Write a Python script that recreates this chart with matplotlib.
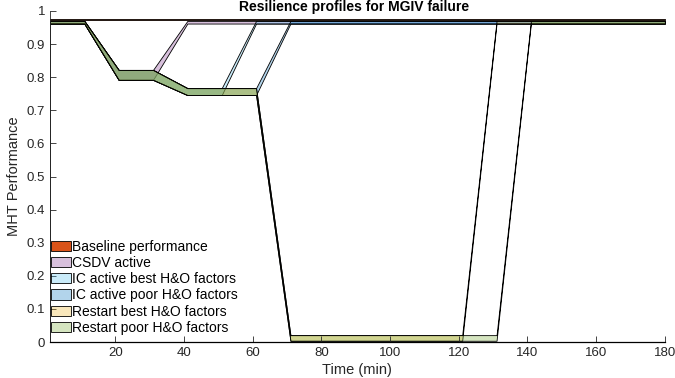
import numpy as np
import matplotlib
matplotlib.use("Agg")
import matplotlib.pyplot as plt
from matplotlib.patches import Patch

plt.rcParams['font.family'] = ['Liberation Sans', 'DejaVu Sans']

# time points (min)
t = [1, 11, 21, 31, 41, 51, 61, 71, 121, 131, 141, 180]

# upper / lower edge of every profile band
base_top = [0.975] * 12
base_bot = [0.972] * 12
csdv_top = [0.970, 0.970, 0.822, 0.822, 0.970, 0.970, 0.970, 0.970, 0.970, 0.970, 0.970, 0.970]
csdv_bot = [0.962, 0.962, 0.792, 0.792, 0.962, 0.962, 0.962, 0.962, 0.962, 0.962, 0.962, 0.962]
icb_top = [0.970, 0.970, 0.822, 0.822, 0.767, 0.767, 0.970, 0.970, 0.970, 0.970, 0.970, 0.970]
icb_bot = [0.962, 0.962, 0.792, 0.792, 0.746, 0.746, 0.962, 0.962, 0.962, 0.962, 0.962, 0.962]
icp_top = [0.970, 0.970, 0.822, 0.822, 0.767, 0.767, 0.767, 0.970, 0.970, 0.970, 0.970, 0.970]
icp_bot = [0.962, 0.962, 0.792, 0.792, 0.746, 0.746, 0.746, 0.962, 0.962, 0.962, 0.962, 0.962]
rsb_top = [0.970, 0.970, 0.822, 0.822, 0.767, 0.767, 0.767, 0.021, 0.021, 0.970, 0.970, 0.970]
rsb_bot = [0.962, 0.962, 0.792, 0.792, 0.746, 0.746, 0.746, 0.004, 0.004, 0.962, 0.962, 0.962]
rsp_top = [0.970, 0.970, 0.822, 0.822, 0.767, 0.767, 0.767, 0.021, 0.021, 0.021, 0.970, 0.970]
rsp_bot = [0.962, 0.962, 0.792, 0.792, 0.746, 0.746, 0.746, 0.004, 0.004, 0.004, 0.962, 0.962]

labels = ["Baseline performance", "CSDV active", "IC active best H&O factors",
          "IC active poor H&O factors", "Restart best H&O factors", "Restart poor H&O factors"]
colors = ["#D95319", "#7E2F8E", "#4DBEEE", "#0072BD", "#EDB120", "#77AC30"]
alphas = [1.0, 0.3, 0.3, 0.3, 0.3, 0.3]

bands = [(base_top, base_bot), (csdv_top, csdv_bot), (icb_top, icb_bot),
         (icp_top, icp_bot), (rsb_top, rsb_bot), (rsp_top, rsp_bot)]

fig = plt.figure(figsize=(6.75, 3.78), dpi=100)
ax = fig.add_axes([0.074, 0.095, 0.911, 0.876])

for (top, bot), c, a in zip(bands, colors, alphas):
    ax.fill_between(t, bot, top, facecolor=matplotlib.colors.to_rgba(c, a),
                    edgecolor="black", linewidth=0.6)

# left edge of the white base area
ax.plot([t[0], t[0]], [0, min(b[1][0] for b in bands)], color="black", lw=1.2)

ax.set_xlim(1, 180)
ax.set_ylim(0, 1)
ax.set_xticks(np.arange(20, 181, 20))
ax.set_yticks(np.arange(0, 1.01, 0.1))
ax.set_yticklabels(["0", "0.1", "0.2", "0.3", "0.4", "0.5", "0.6", "0.7", "0.8", "0.9", "1"])
ax.tick_params(direction="in", length=4, width=0.6, labelsize=9.5, colors="#262626")
for s in ["top", "right"]:
    ax.spines[s].set_visible(False)
ax.spines["left"].set_color("#262626")
ax.spines["left"].set_linewidth(0.6)
ax.spines["bottom"].set_color("black")
ax.spines["bottom"].set_linewidth(0.9)

ax.set_xlabel("Time (min)", fontsize=10.5, color="#262626", labelpad=3)
ax.set_ylabel("MHT Performance", fontsize=10.5, color="#262626", labelpad=4)

handles = [Patch(facecolor=matplotlib.colors.to_rgba(c, a), edgecolor="black", linewidth=0.6)
           for c, a in zip(colors, alphas)]
ax.legend(handles, labels, loc="lower left", bbox_to_anchor=(0.0, 0.02), frameon=False,
          fontsize=10, handlelength=1.45, handleheight=0.75, handletextpad=0.1,
          labelspacing=0.16, borderaxespad=0.0, borderpad=0.05)

fig.text(0.525, 1 - 11 / 378, "Resilience profiles for MGIV failure", ha="center",
         va="baseline", fontsize=10, fontweight="bold", color="black")

fig.savefig("out.png", dpi=100)
